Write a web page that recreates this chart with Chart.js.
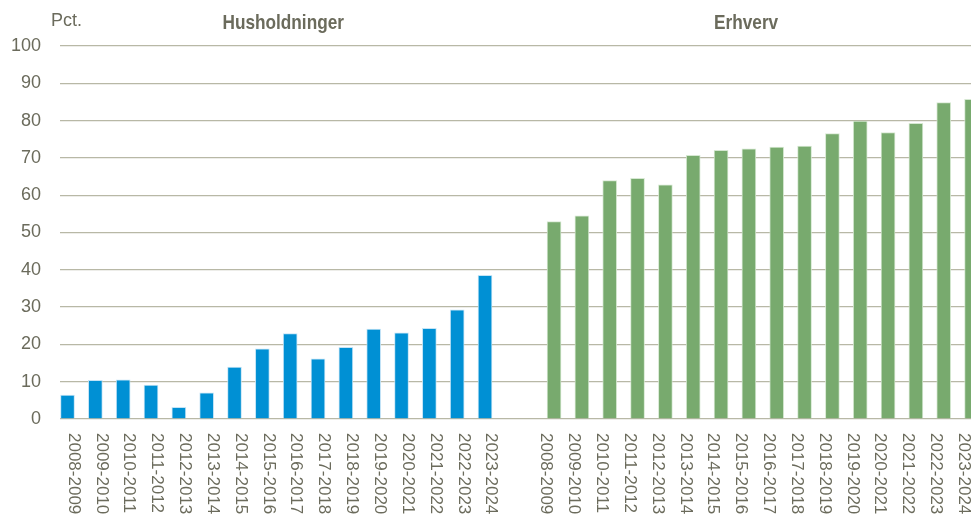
<!DOCTYPE html>
<html>
<head>
<meta charset="utf-8">
<script src="https://cdn.jsdelivr.net/npm/chart.js@4/dist/chart.umd.min.js"></script>
<style>
  html, body { margin: 0; padding: 0; background: #fff; }
  #wrap { width: 971px; height: 515px; position: relative; }
</style>
</head>
<body>
<div id="wrap"><canvas id="myChart"></canvas></div>
<script>
// data
const years = ['2008-2009', '2009-2010', '2010-2011', '2011-2012', '2012-2013', '2013-2014', '2014-2015', '2015-2016',
  '2016-2017', '2017-2018', '2018-2019', '2019-2020', '2020-2021', '2021-2022', '2022-2023', '2023-2024'];
const husholdninger = [6.4, 10.4, 10.5, 9.1, 3.1, 7.0, 13.9, 18.8, 22.9, 16.1, 19.2, 24.1, 23.1, 24.3, 29.3, 38.5];
const erhverv = [52.9, 54.5, 63.9, 64.5, 62.8, 70.7, 72.0, 72.4, 72.9, 73.2, 76.5, 79.9, 76.8, 79.3, 84.8, 85.7];
const yTicks = [0, 10, 20, 30, 40, 50, 60, 70, 80, 90, 100];
const groupTitles = ['Husholdninger', 'Erhverv'];
const unitLabel = 'Pct.';

// second group starts a bit further along the axis (empty space between the panels)
const groupGap = 2.48;
const erhStart = years.length - 1 + groupGap;

const txtColor = '#6b6b5c';
const gridColor = '#b8b8a6';

// bar labels + titles drawn by hand (labels read top to bottom)
// labels sit a little off the bars, different per group
const labelShift = [6, -8];

const labelPlugin = {
  id: 'labelPlugin',
  afterDraw(chart) {
    const ctx = chart.ctx;
    const xs = chart.scales.x;
    ctx.save();
    ctx.fillStyle = txtColor;
    ctx.font = '17px "Liberation Sans", Arial, sans-serif';
    ctx.textAlign = 'left';
    ctx.textBaseline = 'middle';
    chart.data.datasets.forEach(function(ds, d) {
      const meta = chart.getDatasetMeta(d);
      meta.data.forEach(function(bar, i) {
        ctx.save();
        ctx.translate(bar.x + labelShift[d], 433);
        ctx.rotate(Math.PI / 2);
        ctx.fillText(years[i], 0, 0);
        ctx.restore();
      });
    });

    ctx.font = '18px "Liberation Sans", Arial, sans-serif';
    ctx.fillText(unitLabel, 51, 21);

    // narrow bold titles: squeeze regular bold a bit
    ctx.font = 'bold 21px "Liberation Sans", Arial, sans-serif';
    ctx.textAlign = 'center';
    [xs.getPixelForValue(7.75), xs.getPixelForValue(erhStart + 6.9)].forEach(function(px, k) {
      ctx.save();
      ctx.translate(px, 23);
      ctx.scale(0.82, 1);
      ctx.fillText(groupTitles[k], 0, 0);
      ctx.restore();
    });
    ctx.restore();
  }
};

const ctx = document.getElementById('myChart').getContext('2d');
const myChart = new Chart(ctx, {
  type: 'bar',
  data: {
    datasets: [{
      label: groupTitles[0],
      data: husholdninger.map(function(v, i) { return { x: i, y: v }; }),
      backgroundColor: '#0090d4',
      borderColor: 'rgba(190,225,245,0.9)',
      borderWidth: 1,
      barThickness: 14,
      grouped: false
    }, {
      label: groupTitles[1],
      data: erhverv.map(function(v, i) { return { x: erhStart + i, y: v }; }),
      backgroundColor: '#78aa6e',
      borderColor: 'rgba(210,230,205,0.9)',
      borderWidth: 1,
      barThickness: 14,
      grouped: false
    }]
  },
  options: {
    responsive: true,
    maintainAspectRatio: false,
    animation: false,
    layout: { padding: { top: 46, bottom: 96, left: 0, right: 0 } },
    plugins: { legend: { display: false }, tooltip: { enabled: false } },
    scales: {
      x: {
        type: 'linear',
        offset: false,
        min: -0.27,
        max: 32.46,
        display: false
      },
      y: {
        min: 0,
        max: 100,
        afterFit: function(scale) { scale.width = 60; },
        afterBuildTicks: function(scale) { scale.ticks = yTicks.map(function(v) { return { value: v }; }); },
        border: { display: false },
        grid: { color: gridColor, lineWidth: 1.3, drawTicks: false },
        ticks: {
          color: txtColor,
          padding: 19,
          font: { family: '"Liberation Sans", Arial, sans-serif', size: 18 }
        }
      }
    }
  },
  plugins: [labelPlugin]
});
</script>
</body>
</html>
